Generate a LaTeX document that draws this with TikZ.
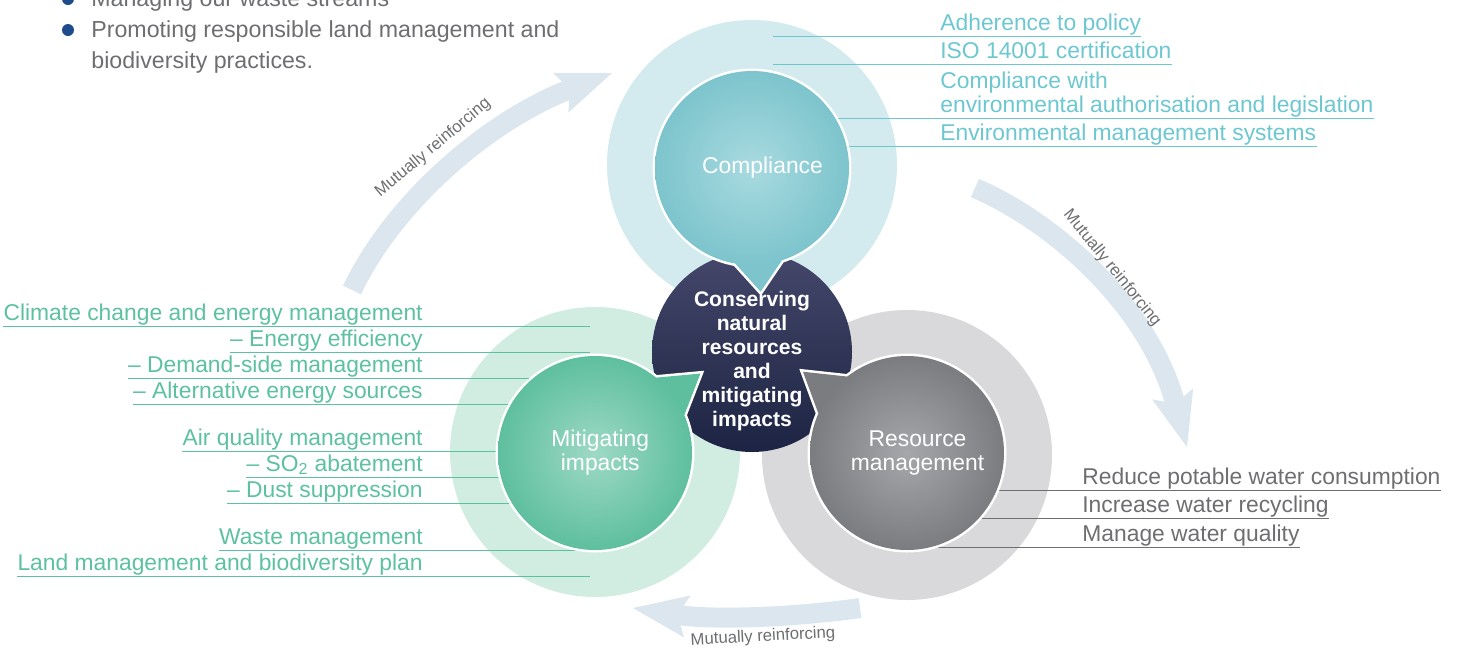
\documentclass[tikz,border=0pt]{standalone}
\usepackage{fontspec}
\setmainfont{Liberation Sans}
\usetikzlibrary{arrows.meta,calc}

\definecolor{arrowblue}{HTML}{DCE6EF}
\definecolor{tealtext}{HTML}{6CC7D0}
\definecolor{greentext}{HTML}{5CC19F}
\definecolor{greytext}{HTML}{6D6E71}
\definecolor{compout}{HTML}{D3EBEE}
\definecolor{complight}{HTML}{A8DAE0}
\definecolor{compdark}{HTML}{7DC4CC}
\definecolor{mitout}{HTML}{D1EDE2}
\definecolor{mitlight}{HTML}{9ED9C4}
\definecolor{mitdark}{HTML}{5EBF9E}
\definecolor{resout}{HTML}{D9D9DB}
\definecolor{reslight}{HTML}{A6A7AA}
\definecolor{resdark}{HTML}{7B7C7F}
\definecolor{corelight}{HTML}{44476A}
\definecolor{coredark}{HTML}{1D2443}
\definecolor{navydot}{HTML}{1D4B8B}

\tikzset{
  ring/.style={circle, inner sep=0pt, minimum size=58mm},
  inball/.style={circle, inner sep=0pt, minimum size=38.8mm, text=white, align=center,
    font=\fontsize{13}{13.6}\selectfont},
  core/.style={circle, inner sep=0pt, minimum size=40mm, top color=corelight, bottom color=coredark},
  coretext/.style={text=white, align=center, font=\bfseries\fontsize{12}{13.6}\selectfont},
  loopflow/.style={draw=arrowblue, line width=4mm,
    -{Stealth[length=11mm, width=8.5mm, inset=2mm, line width=0pt]}},
  mutual/.style={text=greytext, inner sep=0pt, font=\fontsize{9.5}{11}\selectfont},
  label/.style={inner sep=0pt, text height=9.5pt, text depth=3.4pt, font=\fontsize{13}{15}\selectfont},
  teallabel/.style={label, anchor=base west, text=tealtext},
  greenlabel/.style={label, anchor=base east, text=greentext},
  greylabel/.style={label, anchor=base west, text=greytext},
  tealline/.style={draw=tealtext, line width=0.75pt},
  greenline/.style={draw=greentext, line width=0.75pt},
  greyline/.style={draw=greytext, line width=0.75pt},
  dot/.style={circle, fill=navydot, inner sep=0pt, minimum size=2.4mm},
  bullettext/.style={anchor=base west, inner sep=0pt, text=greytext, font=\fontsize{13.2}{15}\selectfont}
}

\begin{document}
\begin{tikzpicture}[x=0.2mm,y=-0.2mm]
\useasboundingbox (0,0) rectangle (1460,650);

% bullet list
\node[dot] (d1) at (68,-1) {};
\node[dot] (d2) at (68,30) {};
\node[bullettext] (b1) at (91,6) {Managing our waste streams};
\node[bullettext] (b2) at (91,37) {Promoting responsible land management and};
\node[bullettext] (b3) at (91,68) {biodiversity practices.};

% mutually reinforcing arrows
\coordinate (s1) at (352,290); \coordinate (t1) at (612,73);
\coordinate (s2) at (975,188); \coordinate (t2) at (1187,447);
\coordinate (s3) at (860,608); \coordinate (t3) at (633,608);
\draw[loopflow] (s1) .. controls (395,200) and (490,120) .. (t1);
\draw[loopflow] (s2) .. controls (1060,225) and (1150,310) .. (t2);
\draw[loopflow] (s3) .. controls (790,618) and (710,620) .. (t3);
\node[mutual, rotate=40] (r1) at (433,148) {Mutually reinforcing};
\node[mutual, rotate=-51] (r2) at (1112,268) {Mutually reinforcing};
\node[mutual, rotate=3] (r3) at (763,637) {Mutually reinforcing};

% outer rings
\node[ring, fill=compout] (co) at (752,165) {};
\node[ring, fill=mitout] (mo) at (595,452) {};
\node[ring, fill=resout] (ro) at (907,455) {};

% where the underlines stop
\coordinate (cend) at (773,0);
\coordinate (mend) at (590,0);
\coordinate (rend) at (910,0);

% compliance items
\node[teallabel] (c0) at (940,88) {Compliance with};
\foreach \n/\y/\txt in {c1/30/Adherence to policy, c2/58/ISO 14001 certification,
    c3/112/environmental authorisation and legislation, c4/140/Environmental management systems}
  \node[teallabel] (\n) at (940,\y) {\txt};
\foreach \i in {1,...,4}
  \draw[tealline] (c\i.south east) -- (c\i.south west -| cend);

% mitigating items
\foreach \n/\y/\txt in {m1/320/Climate change and energy management, m2/346/– Energy efficiency,
    m3/372/– Demand-side management, m4/398/– Alternative energy sources,
    m5/445/Air quality management, m6/471/{– SO\textsubscript{2} abatement},
    m7/497/– Dust suppression, m8/544/Waste management,
    m9/570/Land management and biodiversity plan}
  \node[greenlabel] (\n) at (423,\y) {\txt};
\foreach \i in {1,...,9}
  \draw[greenline] (m\i.south west) -- (m\i.south west -| mend);

% resource items
\foreach \n/\y/\txt in {g1/484/Reduce potable water consumption, g2/512/Increase water recycling,
    g3/541/Manage water quality}
  \node[greylabel] (\n) at (1082,\y) {\txt};
\foreach \i in {1,2,3}
  \draw[greyline] (g\i.south east) -- (g\i.south west -| rend);

% centre
\node[core] (core) at (752,352) {};

% inner balls with their tails
\coordinate (pc) at (752,168);
\coordinate (pm) at (595,453);
\coordinate (pr) at (907,453);
\foreach \c/\a/\r in {pc/86/124, pm/-37/132, pr/218/132}
  \filldraw[white, line width=1mm] (\c) circle (97)
    ($(\c)+({\a-14}:97)$) -- ($(\c)+(\a:\r)$) -- ($(\c)+({\a+14}:97)$) -- cycle;
\foreach \c/\a/\r/\col in {pc/86/124/compdark, pm/-37/132/mitdark, pr/218/132/resdark}
  \fill[\col] ($(\c)+({\a-14}:97)$) -- ($(\c)+(\a:\r)$) -- ($(\c)+({\a+14}:97)$) -- cycle;

\node[inball, inner color=complight, outer color=compdark] (comp) at (pc) {\hspace*{12pt}Compliance};
\node[inball, inner color=mitlight, outer color=mitdark] (mit) at (pm) {\hspace*{6pt}Mitigating\\\hspace*{6pt}impacts};
\node[inball, inner color=reslight, outer color=resdark] (res) at (pr) {\hspace*{12pt}Resource\\\hspace*{12pt}management};

\node[coretext] (ct) at (752,361) {Conserving\\natural\\resources\\and\\mitigating\\impacts};
\end{tikzpicture}
\end{document}
